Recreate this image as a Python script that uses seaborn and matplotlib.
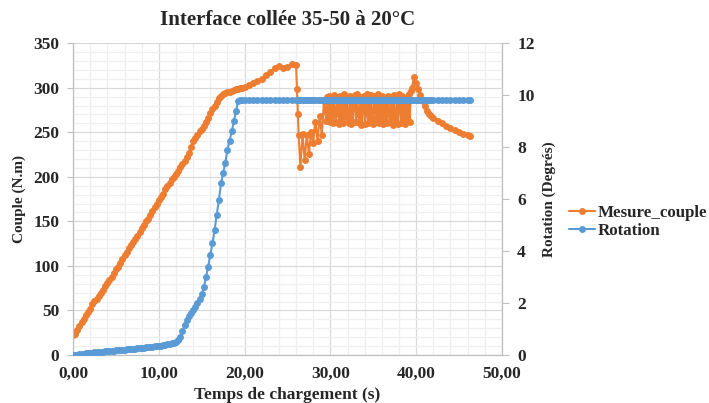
import pandas as pd
import matplotlib
matplotlib.use("Agg")
import matplotlib.pyplot as plt
from matplotlib.ticker import MultipleLocator
import seaborn as sns

# values, one block per stretch of the test
# loading phase 0-12 s
t_load = [0.0, 0.25, 0.5, 0.75, 1.0, 1.25, 1.5, 1.75, 2.0, 2.25, 2.5, 2.75,
          3.0, 3.25, 3.5, 3.75, 4.0, 4.25, 4.5, 4.75, 5.0, 5.25, 5.5, 5.75,
          6.0, 6.25, 6.5, 6.75, 7.0, 7.25, 7.5, 7.75, 8.0, 8.25, 8.5, 8.75,
          9.0, 9.25, 9.5, 9.75, 10.0, 10.25, 10.5, 10.75, 11.0, 11.25, 11.5, 11.75,
          12.0]
couple_load = [22, 24, 28, 33, 37, 41, 45, 48, 52, 57, 61, 63,
               66, 70, 73, 77, 81, 84, 88, 92, 96, 99, 103, 108,
               112, 116, 120, 123, 127, 130, 134, 138, 142, 146, 150, 153,
               157, 162, 166, 170, 174, 177, 181, 186, 190, 193, 197, 200,
               203]
rot_load = [0.0, 0.01, 0.02, 0.03, 0.04, 0.05, 0.06, 0.07, 0.08, 0.09, 0.10, 0.11,
            0.12, 0.12, 0.13, 0.14, 0.15, 0.15, 0.16, 0.17, 0.18, 0.19, 0.20, 0.20,
            0.21, 0.22, 0.23, 0.24, 0.25, 0.25, 0.26, 0.27, 0.28, 0.29, 0.30, 0.30,
            0.31, 0.32, 0.33, 0.34, 0.35, 0.36, 0.38, 0.39, 0.41, 0.43, 0.45, 0.47,
            0.50]

# rotation takes off 12-20 s
t_slip = [12.25, 12.5, 12.75, 13.0, 13.25, 13.5, 13.75, 14.0,
          14.25, 14.5, 14.75, 15.0, 15.25, 15.5, 15.75, 16.0,
          16.25, 16.5, 16.75, 17.0, 17.25, 17.5, 17.75, 18.0,
          18.25, 18.5, 18.75, 19.0, 19.25, 19.5, 19.75, 20.0]
couple_slip = [207, 211, 214, 218, 222, 227, 233, 240,
               243, 247, 251, 254, 257, 261, 266, 272,
               276, 280, 284, 288, 291, 293, 294, 295,
               295, 296, 297, 298, 299, 300, 300, 301]
rot_slip = [0.56, 0.70, 0.92, 1.15, 1.35, 1.50, 1.62, 1.75,
            1.85, 2.00, 2.15, 2.35, 2.60, 3.00, 3.40, 3.85,
            4.30, 4.80, 5.40, 5.95, 6.60, 7.00, 7.40, 7.90,
            8.25, 8.60, 9.00, 9.40, 9.78, 9.80, 9.80, 9.80]

# peak before rupture 20-26 s
t_peak = [20.5, 21.0, 21.5, 22.0, 22.5, 23.0, 23.5, 24.0, 24.5, 25.0, 25.5, 26.0]
couple_peak = [303, 305, 307, 310, 314, 318, 322, 324, 322, 323, 327, 325]
rot_peak = [9.8, 9.8, 9.8, 9.8, 9.8, 9.8, 9.8, 9.8, 9.8, 9.8, 9.8, 9.8]

# rupture and first slips 26-29.5 s
t_drop = [26.1, 26.2, 26.3, 26.5, 26.75, 27.0, 27.25, 27.5, 27.75, 28.0, 28.25,
          28.5, 28.75, 29.0, 29.25, 29.5]
couple_drop = [299, 271, 247, 211, 248, 219, 247, 226, 250, 238, 262,
               240, 268, 247, 285, 263]
rot_drop = [9.8, 9.8, 9.8, 9.8, 9.8, 9.8, 9.8, 9.8, 9.8, 9.8, 9.8,
            9.8, 9.8, 9.8, 9.8, 9.8]

# stick-slip band 29.6-40.3 s
t_stick = [29.625, 29.75, 29.875, 30.0, 30.125, 30.25, 30.375, 30.5,
           30.625, 30.75, 30.875, 31.0, 31.125, 31.25, 31.375, 31.5,
           31.625, 31.75, 31.875, 32.0, 32.125, 32.25, 32.375, 32.5,
           32.625, 32.75, 32.875, 33.0, 33.125, 33.25, 33.375, 33.5,
           33.625, 33.75, 33.875, 34.0, 34.125, 34.25, 34.375, 34.5,
           34.625, 34.75, 34.875, 35.0, 35.125, 35.25, 35.375, 35.5,
           35.625, 35.75, 35.875, 36.0, 36.125, 36.25, 36.375, 36.5,
           36.625, 36.75, 36.875, 37.0, 37.125, 37.25, 37.375, 37.5,
           37.625, 37.75, 37.875, 38.0, 38.125, 38.25, 38.375, 38.5,
           38.625, 38.75, 38.875, 39.0, 39.125, 39.25, 39.375,
           39.5, 39.75, 40.0, 40.25]
couple_stick = [290, 266, 291, 262, 285, 260, 292, 271,
                261, 290, 276, 259, 291, 262, 288, 260,
                293, 268, 291, 265, 260, 291, 259, 287,
                262, 280, 292, 261, 293, 270, 262, 290,
                258, 284, 291, 259, 272, 293, 260, 290,
                262, 292, 266, 259, 291, 275, 262, 293,
                260, 289, 264, 291, 259, 285, 264, 288,
                260, 291, 270, 262, 289, 258, 292, 265,
                262, 290, 259, 293, 276, 260, 291, 262,
                288, 259, 290, 264, 293, 262, 296,
                300, 312, 305, 298]
rot_stick = [9.8, 9.8, 9.8, 9.8, 9.8, 9.8, 9.8, 9.8,
             9.8, 9.8, 9.8, 9.8, 9.8, 9.8, 9.8, 9.8,
             9.8, 9.8, 9.8, 9.8, 9.8, 9.8, 9.8, 9.8,
             9.8, 9.8, 9.8, 9.8, 9.8, 9.8, 9.8, 9.8,
             9.8, 9.8, 9.8, 9.8, 9.8, 9.8, 9.8, 9.8,
             9.8, 9.8, 9.8, 9.8, 9.8, 9.8, 9.8, 9.8,
             9.8, 9.8, 9.8, 9.8, 9.8, 9.8, 9.8, 9.8,
             9.8, 9.8, 9.8, 9.8, 9.8, 9.8, 9.8, 9.8,
             9.8, 9.8, 9.8, 9.8, 9.8, 9.8, 9.8, 9.8,
             9.8, 9.8, 9.8, 9.8, 9.8, 9.8, 9.8,
             9.8, 9.8, 9.8, 9.8]

# relaxation 40-46 s
t_relax = [40.5, 40.75, 41.0, 41.25, 41.5, 41.75, 42.0, 42.5, 43.0, 43.5,
           44.0, 44.5, 45.0, 45.5, 46.0, 46.3]
couple_relax = [292, 285, 279, 274, 270, 268, 266, 263, 260, 257,
                255, 252, 250, 248, 247, 246]
rot_relax = [9.8, 9.8, 9.8, 9.8, 9.8, 9.8, 9.8, 9.8, 9.8, 9.8,
             9.8, 9.8, 9.8, 9.8, 9.8, 9.8]

xticks = [0, 10, 20, 30, 40, 50]
xtick_labels = ["0,00", "10,00", "20,00", "30,00", "40,00", "50,00"]

segments = [(t_load, couple_load, rot_load), (t_slip, couple_slip, rot_slip),
            (t_peak, couple_peak, rot_peak), (t_drop, couple_drop, rot_drop),
            (t_stick, couple_stick, rot_stick), (t_relax, couple_relax, rot_relax)]
df = pd.concat([pd.DataFrame({"Temps": t, "Mesure_couple": c, "Rotation": r})
                for t, c, r in segments], ignore_index=True)

# %%
sns.set_style("white")
plt.rcParams["font.family"] = ["Liberation Serif", "DejaVu Serif"]
plt.rcParams["font.weight"] = "bold"

orange = "#ED7D31"
blue = "#5B9BD5"
axis_grey = "#BFBFBF"

fig = plt.figure(figsize=(7.09, 4.03), dpi=100)
ax = fig.add_axes([0.103, 0.119, 0.605, 0.774])
ax2 = ax.twinx()

line_kw = dict(marker="o", markersize=5, markeredgewidth=0, linewidth=1.5,
               estimator=None, sort=False, legend=False)
sns.lineplot(data=df, x="Temps", y="Mesure_couple", color=orange, ax=ax, **line_kw)
sns.lineplot(data=df, x="Temps", y="Rotation", color=blue, ax=ax2, **line_kw)

ax.set_xlim(0, 50)
ax.set_ylim(0, 350)
ax2.set_ylim(0, 12)
ax.set_xticks(xticks)
ax.set_xticklabels(xtick_labels)
ax.xaxis.set_minor_locator(MultipleLocator(2))
ax.yaxis.set_major_locator(MultipleLocator(50))
ax.yaxis.set_minor_locator(MultipleLocator(10))
ax2.yaxis.set_major_locator(MultipleLocator(2))

ax.grid(which="major", color="#D9D9D9", linewidth=0.9)
ax.grid(which="minor", color="#EFEFEF", linewidth=0.9)
ax.set_axisbelow(True)

for a in (ax, ax2):
    for side in ("top", "left", "right", "bottom"):
        a.spines[side].set_visible(False)
ax.spines["left"].set_visible(True)
ax.spines["bottom"].set_visible(True)
ax2.spines["right"].set_visible(True)
for s in (ax.spines["left"], ax.spines["bottom"], ax2.spines["right"]):
    s.set_color(axis_grey)
    s.set_linewidth(0.9)

ax.tick_params(axis="x", which="both", length=0, pad=8, labelsize=12.5)
ax.tick_params(axis="y", which="major", length=4, color=axis_grey, pad=6, labelsize=12.5)
ax.tick_params(axis="y", which="minor", length=0)
ax2.tick_params(axis="y", which="major", length=5, color=axis_grey, pad=6, labelsize=12.5)

ax.set_title("Interface collée 35-50 à 20°C", fontsize=15, fontweight="bold", pad=13)
ax.set_xlabel("Temps de chargement (s)", fontsize=12.5, fontweight="bold")
ax.xaxis.set_label_coords(0.5, -0.103)
ax.set_ylabel("Couple (N.m)", fontsize=11, fontweight="bold", va="center")
ax.yaxis.set_label_coords(-0.125, 0.5)
ax2.set_ylabel("Rotation (Degrés)", fontsize=11, fontweight="bold", va="center")
ax2.yaxis.set_label_coords(1.11, 0.5)

handles = [ax.get_lines()[0], ax2.get_lines()[0]]
fig.legend(handles, ["Mesure_couple", "Rotation"], loc="center left",
           bbox_to_anchor=(0.803, 0.449), frameon=False, fontsize=12.2,
           handlelength=1.5, handletextpad=0.2, labelspacing=0.15,
           borderpad=0, borderaxespad=0, numpoints=1)

fig.savefig("out.png", dpi=100)
